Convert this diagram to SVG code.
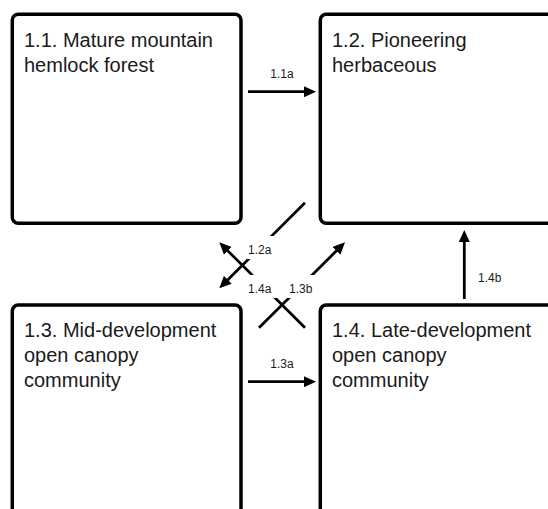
<svg xmlns="http://www.w3.org/2000/svg" width="548" height="509" viewBox="0 0 548 509">
<style>
.box{fill:#fff;stroke:#000;stroke-width:3.5}
.title{font-family:"Liberation Sans",Arial,sans-serif;font-size:20px;fill:#1a1a1a}
.lbl{font-family:"Liberation Sans",Arial,sans-serif;font-size:12px;fill:#1a1a1a}
.conn{stroke:#000;stroke-width:2.75;fill:none;marker-end:url(#ah)}
.mask{fill:#fff;stroke:none}
</style>
<defs>
<marker id="ah" markerUnits="userSpaceOnUse" markerWidth="12" markerHeight="11" refX="1" refY="5.5" orient="auto">
<path d="M0,0 L12,5.5 L0,11 z" fill="#000"/>
</marker>
</defs>
<rect width="548" height="509" fill="#fff"/>
<g id="node-1-1">
<rect class="box" x="12.3" y="14.3" width="228.7" height="209" rx="6"/>
<text class="title" x="24" y="47">1.1. Mature mountain</text>
<text class="title" x="24" y="72">hemlock forest</text>
</g>
<g id="node-1-2">
<rect class="box" x="320.3" y="14.3" width="240" height="209" rx="6"/>
<text class="title" x="332" y="47">1.2. Pioneering</text>
<text class="title" x="332" y="72">herbaceous</text>
</g>
<g id="node-1-3">
<rect class="box" x="12.3" y="305" width="228.7" height="240" rx="6"/>
<text class="title" x="24" y="337">1.3. Mid-development</text>
<text class="title" x="24" y="362">open canopy</text>
<text class="title" x="24" y="387">community</text>
</g>
<g id="node-1-4">
<rect class="box" x="320.3" y="305" width="240" height="240" rx="6"/>
<text class="title" x="332" y="337">1.4. Late-development</text>
<text class="title" x="332" y="362">open canopy</text>
<text class="title" x="332" y="387">community</text>
</g>
<g id="connectors">
<line class="conn" x1="248" y1="91.7" x2="305" y2="91.7"/>
<line class="conn" x1="248" y1="381.7" x2="305" y2="381.7"/>
<line class="conn" x1="464.3" y1="299" x2="464.3" y2="241"/>
<line class="conn" x1="305" y1="202.7" x2="227.1" y2="280.5"/>
<line class="conn" x1="305" y1="327.7" x2="227.1" y2="250.1"/>
<line class="conn" x1="259" y1="327.7" x2="337.2" y2="250.1"/>
<rect class="mask" x="247" y="236" width="34" height="23"/>
<rect class="mask" x="247" y="275" width="34" height="23"/>
<rect class="mask" x="287" y="275" width="34" height="23"/>
<text class="lbl" x="282" y="78" text-anchor="middle">1.1a</text>
<text class="lbl" x="282" y="368" text-anchor="middle">1.3a</text>
<text class="lbl" x="478" y="282">1.4b</text>
<text class="lbl" x="248" y="254">1.2a</text>
<text class="lbl" x="248" y="293">1.4a</text>
<text class="lbl" x="289" y="293">1.3b</text>
</g>
</svg>
